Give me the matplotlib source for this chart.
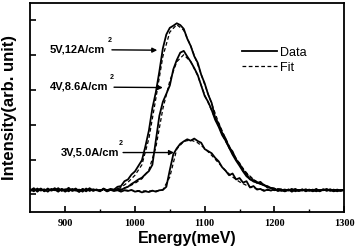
import numpy as np
import matplotlib
matplotlib.use("Agg")
import matplotlib.pyplot as plt

# -------------------------
# Data
# -------------------------
energy = np.arange(850, 1301, 5)      # meV, measured spectra
energy_fit = np.arange(850, 1301, 10)  # meV, fitted curves

data_5v = [
    0.62, 0.68, 0.58, 0.66, 0.60, 0.67, 0.61, 0.64, 0.58, 0.66,
    0.62, 0.69, 0.60, 0.63, 0.57, 0.66, 0.61, 0.68, 0.60, 0.64,
    0.59, 0.67, 0.62, 0.66, 0.64, 0.72, 0.74, 0.88, 0.93, 1.07,
    1.16, 1.32, 1.48, 1.88, 2.33, 2.97, 3.43, 4.02, 4.68, 5.08,
    5.27, 5.33, 5.40, 5.35, 5.24, 4.96, 4.75, 4.46, 4.27, 3.93,
    3.68, 3.36, 3.12, 2.70, 2.53, 2.27, 2.10, 1.85, 1.73, 1.50,
    1.39, 1.18, 1.08, 0.93, 0.91, 0.83, 0.86, 0.76, 0.74, 0.68,
    0.67, 0.61, 0.64, 0.59, 0.64, 0.58, 0.63, 0.60, 0.65, 0.59,
    0.63, 0.60, 0.66, 0.59, 0.64, 0.61, 0.65, 0.60, 0.64, 0.61,
    0.63,
]
data_4v = [
    0.64, 0.59, 0.67, 0.61, 0.65, 0.58, 0.66, 0.62, 0.68, 0.60,
    0.65, 0.59, 0.66, 0.61, 0.64, 0.58, 0.67, 0.60, 0.65, 0.62,
    0.60, 0.66, 0.59, 0.64, 0.61, 0.66, 0.63, 0.68, 0.72, 0.80,
    0.86, 0.93, 0.98, 1.08, 1.17, 1.35, 2.05, 2.75, 3.15, 3.38,
    3.62, 4.08, 4.35, 4.56, 4.61, 4.45, 4.30, 4.12, 3.92, 3.62,
    3.32, 3.15, 2.92, 2.64, 2.44, 2.20, 2.04, 1.84, 1.64, 1.47,
    1.32, 1.16, 1.02, 0.94, 0.87, 0.84, 0.80, 0.78, 0.70, 0.69,
    0.62, 0.65, 0.60, 0.64, 0.61, 0.66, 0.59, 0.63, 0.61, 0.65,
    0.60, 0.64, 0.59, 0.63, 0.62, 0.66, 0.60, 0.64, 0.59, 0.63,
    0.62,
]
data_3v = [
    0.60, 0.66, 0.61, 0.67, 0.59, 0.64, 0.62, 0.68, 0.61, 0.65,
    0.58, 0.64, 0.62, 0.67, 0.60, 0.65, 0.59, 0.66, 0.62, 0.64,
    0.61, 0.65, 0.59, 0.63, 0.60, 0.62, 0.58, 0.62, 0.60, 0.63,
    0.58, 0.60, 0.56, 0.59, 0.57, 0.61, 0.58, 0.62, 0.63, 0.72,
    1.20, 1.65, 1.82, 1.95, 2.02, 2.08, 2.04, 2.10, 2.03, 1.98,
    1.80, 1.74, 1.68, 1.55, 1.45, 1.28, 1.18, 1.05, 1.10, 0.93,
    0.97, 0.84, 0.88, 0.70, 0.74, 0.64, 0.66, 0.60, 0.64, 0.61,
    0.65, 0.60, 0.63, 0.59, 0.64, 0.62, 0.66, 0.60, 0.63, 0.61,
    0.64, 0.59, 0.62, 0.60, 0.65, 0.61, 0.63, 0.59, 0.62, 0.60,
    0.63,
]

fit_5v = [0.63] * 12 + [
    0.64, 0.70, 0.85, 1.05, 1.35, 2.10, 3.25, 4.45, 5.15, 5.36,
    5.20, 4.75, 4.22, 3.65, 3.10, 2.55, 2.10, 1.70, 1.38, 1.12,
    0.93, 0.80, 0.72, 0.67, 0.65,
] + [0.63] * 9
fit_4v = [0.63] * 12 + [
    0.63, 0.66, 0.72, 0.82, 0.95, 1.20, 1.85, 2.95, 3.75, 4.30,
    4.50, 4.30, 3.90, 3.35, 2.90, 2.45, 2.02, 1.65, 1.35, 1.10,
    0.92, 0.80, 0.71, 0.67, 0.65,
] + [0.63] * 9
fit_3v = [0.62] * 12 + [
    0.62, 0.62, 0.62, 0.61, 0.60, 0.60, 0.60, 0.63, 1.00, 1.80,
    2.02, 2.06, 1.98, 1.82, 1.62, 1.40, 1.18, 1.00, 0.86, 0.76,
    0.68, 0.64, 0.62, 0.62, 0.62,
] + [0.62] * 9

labels = ["5V,12A/cm", "4V,8.6A/cm", "3V,5.0A/cm"]

# -------------------------
# Plot
# -------------------------
plt.rcParams["font.family"] = ["Liberation Sans", "DejaVu Sans"]

fig = plt.figure(figsize=(3.57, 2.52), dpi=100)
ax = fig.add_axes([0.085, 0.159, 0.879, 0.829])

for d in (data_5v, data_4v, data_3v):
    ax.plot(energy, d, color="black", lw=1.3)
for f in (fit_5v, fit_4v, fit_3v):
    ax.plot(energy_fit, f, color="black", lw=0.9, linestyle=(0, (3, 2)))

ax.set_xlim(850, 1300)
ax.set_ylim(0, 5.98)

ax.set_xticks([900, 1000, 1100, 1200, 1300])
ax.set_xticks([950, 1050, 1150, 1250], minor=True)
ax.set_yticks([0.5, 1.5, 2.5, 3.5, 4.5, 5.5])
ax.set_yticklabels([])
ax.tick_params(axis="x", which="major", direction="in", length=4, width=1.2, pad=5)
ax.tick_params(axis="x", which="minor", direction="in", length=2.5, width=1.0)
ax.tick_params(axis="y", direction="in", length=4, width=1.2)
for lab in ax.get_xticklabels():
    lab.set_fontfamily("Liberation Serif")
    lab.set_fontweight("bold")
    lab.set_fontsize(7.5)
for sp in ax.spines.values():
    sp.set_linewidth(1.3)

ax.set_xlabel("Energy(meV)", fontsize=11.5, fontweight="bold", labelpad=2)
ax.set_ylabel("Intensity(arb. unit)", fontsize=12, fontweight="bold", labelpad=6)

# annotations with arrows
text_pos = [(878, 4.66), (878, 3.59), (893, 1.70)]
arrow_from = [(967, 4.64), (970, 3.57), (983, 1.70)]
arrow_to = [(1032, 4.63), (1040, 3.56), (1056, 1.70)]
for lab, tp, a0, a1 in zip(labels, text_pos, arrow_from, arrow_to):
    ax.text(tp[0], tp[1], lab, fontsize=8, fontweight="bold", ha="left", va="center")
    ax.annotate("2", xy=(a0[0] - 3, tp[1] + 0.26), fontsize=5, fontweight="bold",
                ha="center", va="center")
    ax.annotate("", xy=a1, xytext=a0,
                arrowprops=dict(arrowstyle="-|>", color="black", lw=1.0,
                                mutation_scale=7, shrinkA=0, shrinkB=0))

ax.plot([], [], color="black", lw=1.3, label="Data")
ax.plot([], [], color="black", lw=0.9, linestyle=(0, (3, 2)), label="Fit")
handles, names = ax.get_legend_handles_labels()
ax.legend(handles[-2:], names[-2:], loc="upper left", bbox_to_anchor=(0.66, 0.815),
          frameon=False, fontsize=9, handlelength=2.8, handletextpad=0.2,
          labelspacing=0.25, borderaxespad=0)

fig.savefig("out.png", dpi=100)
plt.close(fig)
